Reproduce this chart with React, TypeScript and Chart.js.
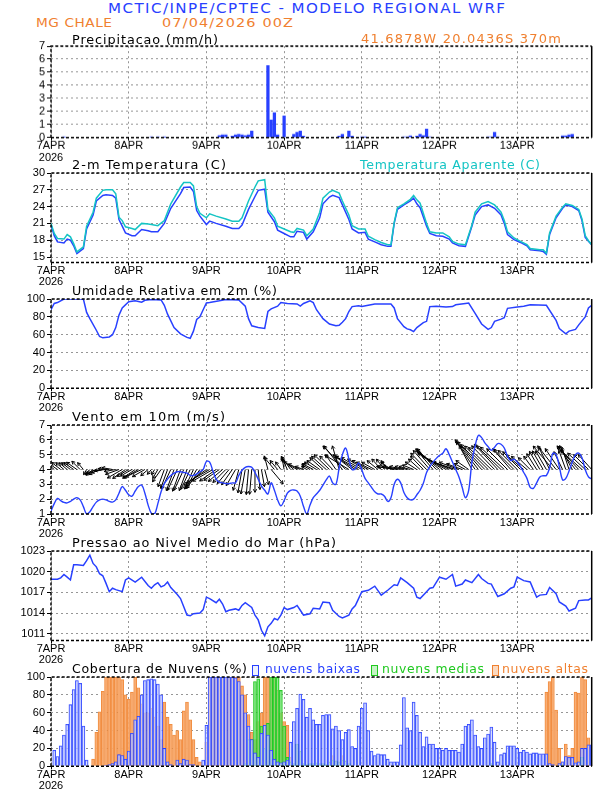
import React, { useEffect, useLayoutEffect, useRef } from 'react';
import { Chart, registerables } from 'chart.js';

Chart.register(...registerables);

// ---------------- data ----------------
const dayTicks = [0, 24, 48, 72, 96, 120, 144];
const dayLabels = ['7APR', '8APR', '9APR', '10APR', '11APR', '12APR', '13APR'];
const yearLabel = '2026';

const precipHours = [4, 31, 33, 35, 52, 53, 54, 56, 57, 58, 59, 60, 61, 62, 67, 68, 69, 70, 72, 75, 76, 77, 78, 89, 90, 92, 93, 96, 97, 109, 110, 111, 113, 114, 115, 116, 117, 135, 136, 137, 138, 158, 159, 160, 161];
const precip = [0.03, 0.03, 0.03, 0.03, 0.15, 0.2, 0.2, 0.1, 0.2, 0.25, 0.2, 0.15, 0.2, 0.5, 5.5, 1.35, 1.9, 0.2, 1.65, 0.25, 0.4, 0.5, 0.1, 0.1, 0.25, 0.5, 0.1, 0.02, 0.02, 0.05, 0.05, 0.12, 0.1, 0.25, 0.15, 0.65, 0.05, 0.05, 0.05, 0.4, 0.05, 0.12, 0.12, 0.2, 0.25];

const tempHours = [0, 1, 2, 4, 5, 6, 7, 8, 10, 11, 13, 14, 16, 17, 19, 20, 21, 22, 23, 25, 26, 28, 30, 31, 33, 35, 37, 40, 41, 43, 44, 45, 46, 48, 49, 51, 54, 56, 58, 59, 61, 63, 64, 66, 67, 69, 70, 72, 74, 75, 76, 78, 79, 81, 83, 84, 86, 87, 89, 90, 92, 93, 95, 97, 98, 100, 102, 104, 105, 106, 107, 109, 111, 112, 113, 114, 116, 117, 119, 121, 123, 124, 126, 128, 130, 131, 133, 135, 137, 139, 140, 141, 143, 145, 147, 148, 151, 152, 153, 154, 156, 158, 159, 161, 163, 164, 165, 166, 167];
const temperature = [20.8, 18.8, 17.7, 17.5, 18.2, 18.0, 17.0, 15.6, 16.5, 20.0, 22.5, 25.0, 26.0, 26.1, 26.0, 25.5, 21.7, 20.5, 19.3, 18.8, 18.8, 19.9, 19.7, 19.5, 19.5, 21.0, 23.7, 26.3, 27.4, 27.5, 26.7, 23.3, 22.3, 20.8, 21.4, 21.0, 20.5, 20.1, 20.1, 20.7, 23.5, 25.8, 26.9, 27.1, 23.0, 21.3, 19.8, 19.2, 18.6, 18.6, 19.6, 19.4, 18.2, 19.5, 22.0, 24.5, 25.7, 26.0, 25.6, 24.3, 21.7, 20.0, 19.3, 19.4, 18.2, 17.7, 17.2, 16.9, 16.9, 21.0, 23.5, 24.3, 25.0, 25.5, 24.5, 23.8, 20.5, 19.2, 18.8, 18.7, 18.2, 17.5, 17.0, 16.9, 20.5, 22.5, 24.0, 24.3, 23.7, 22.5, 21.0, 19.0, 18.1, 17.6, 17.0, 16.3, 16.1, 16.0, 15.5, 19.0, 22.0, 23.7, 24.3, 24.0, 23.3, 21.5, 18.5, 17.8, 17.2];
const apparentTemp = [21.0, 19.2, 18.3, 18.2, 19.0, 18.6, 17.4, 15.9, 16.8, 20.5, 23.0, 25.5, 26.9, 27.0, 27.0, 26.3, 22.1, 21.5, 20.4, 20.1, 19.9, 21.0, 20.9, 20.8, 20.6, 21.5, 24.5, 27.5, 28.3, 28.3, 27.7, 24.0, 22.8, 22.0, 22.7, 22.3, 21.8, 21.4, 21.4, 22.0, 25.0, 27.5, 28.6, 28.8, 23.5, 22.0, 20.5, 20.0, 19.5, 19.4, 20.1, 19.8, 18.8, 20.0, 23.0, 25.5, 26.6, 26.9, 26.4, 25.0, 22.5, 20.6, 20.0, 20.0, 18.7, 18.1, 17.6, 17.2, 17.2, 21.2, 23.8, 24.5, 25.3, 26.0, 25.2, 24.6, 21.0, 19.5, 19.3, 19.3, 18.6, 17.8, 17.3, 17.2, 20.7, 23.0, 24.5, 24.9, 24.3, 23.0, 21.5, 19.5, 18.4, 17.8, 17.2, 16.5, 16.3, 16.3, 15.7, 19.3, 22.3, 23.9, 24.5, 24.2, 23.5, 21.8, 18.8, 17.9, 17.2];

const rhHours = [0, 1, 2, 4, 10, 11, 12, 14, 15, 16, 18, 19, 20, 21, 22, 24, 26, 28, 29, 31, 34, 35, 36, 38, 40, 42, 43, 44, 45, 46, 47, 48, 49, 52, 54, 58, 60, 61, 62, 64, 66, 67, 68, 70, 71, 73, 76, 77, 78, 80, 81, 82, 84, 86, 88, 89, 90, 91, 92, 93, 95, 96, 98, 100, 105, 106, 107, 109, 110, 111, 112, 113, 115, 116, 117, 119, 122, 124, 125, 128, 129, 131, 133, 135, 136, 137, 139, 140, 141, 144, 146, 148, 153, 156, 157, 159, 160, 162, 163, 165, 166, 167];
const humidity = [88, 95, 96, 100, 100, 85, 78, 65, 58, 56.5, 57.5, 60, 68, 82, 90, 97, 98, 96.5, 98.5, 99.5, 99, 93, 83, 68, 61, 57, 56, 64, 77, 80, 88, 95.5, 96, 98, 99.5, 99, 92, 78, 70, 68, 67, 86, 89, 92, 96, 95, 94.5, 92, 95, 98, 96, 88, 78, 72, 70, 70.5, 74, 78, 86, 91.5, 92.5, 91.5, 93, 94.5, 94.5, 90, 78, 69, 66.5, 65.5, 63.5, 68, 73.5, 75, 91.5, 92, 91, 91.5, 93.5, 95, 95.5, 84, 72, 66, 68, 75, 77.5, 79, 89.5, 91, 92, 93.5, 93, 76, 67, 61, 64, 66, 71, 80, 90, 93];

// hourly 10 m wind speed (m/s), hours 0..167
const windSpeed = [
  1.2, 1.7, 2.05, 1.9, 1.78, 1.75, 1.85, 2.0, 2.1, 1.95, 1.5, 1.0, 1.15, 1.5, 1.8, 1.95, 2.0, 1.95, 1.85, 1.8, 1.95, 2.4, 2.85, 2.6,
  2.3, 2.2, 2.55, 2.85, 2.95, 2.4, 1.6, 1.05, 1.0, 1.7, 2.5, 3.05, 3.35, 3.6, 3.75, 3.85, 3.85, 3.8, 3.75, 3.6, 3.6, 3.7, 3.85, 4.0,
  4.55, 4.5, 3.9, 3.35, 3.15, 3.1, 3.05, 3.05, 3.1, 3.1, 3.6, 3.95, 4.15, 4.2, 4.15, 3.8, 3.35, 2.9, 2.6, 2.35, 3.1, 2.6, 1.95, 1.55,
  1.9, 2.4, 2.6, 2.62, 2.55, 2.2, 1.5, 1.0, 1.6, 2.1, 2.35, 2.6, 2.95, 3.3, 3.56, 3.1, 3.0, 4.1, 5.0, 5.45, 4.7, 4.0, 4.05, 4.45,
  3.97, 3.4, 3.1, 2.8, 2.5, 2.35, 2.35, 2.2, 1.85, 2.1, 3.0, 3.34, 3.1, 2.45, 2.1, 1.95, 2.0, 2.3, 2.6, 3.07, 3.8, 4.2, 4.5, 4.75,
  4.95, 5.1, 5.4, 5.0, 4.5, 4.0, 3.5, 2.8, 2.1, 2.6, 4.5, 5.6, 6.3, 6.15, 5.8, 5.54, 5.3, 5.5, 5.75, 5.7, 5.45, 4.9, 4.6, 4.7,
  4.5, 4.2, 3.8, 3.4, 2.8, 2.73, 3.1, 3.5, 3.58, 3.6, 4.1, 5.1, 5.0, 4.2, 3.3, 3.4, 3.9, 4.5, 5.0, 5.1, 4.8, 4.0, 3.5, 3.35,
];
// hourly wind direction (degrees, meteorological "from"), hours 0..167
const windDir = [
  150, 130, 125, 128, 130, 130, 128, 125, 125, 135, 140, 30, 40, 50, 70, 65, 75, 85, 95, 100, 80, 70, 60, 55,
  60, 60, 55, 60, 65, 60, 50, 40, 30, 30, 35, 20, 20, 25, 20, 25, 20, 25, 20, 25, 25, 30, 35, 45,
  55, 60, 60, 55, 55, 50, 45, 40, 35, 30, 15, 10, 10, 5, 5, 0, 355, 350, 345, 165, 320, 140, 140, 145,
  170, 155, 145, 130, 120, 115, 110, 120, 120, 118, 122, 125, 132, 132, 134, 136, 145, 164, 142, 136, 121, 128, 123, 120,
  120, 121, 119, 116, 119, 129, 138, 142, 143, 126, 100, 98, 100, 102, 104, 105, 112, 123, 132, 136, 136, 139, 140, 137,
  130, 125, 120, 116, 112, 108, 110, 110, 118, 125, 152, 146, 142, 139, 136, 135, 134, 136, 137, 134, 133, 135, 139, 135,
  135, 135, 130, 130, 135, 144, 148, 150, 150, 150, 154, 140, 142, 146, 154, 160, 162, 152, 142, 137, 132, 133, 135, 138,
];

const pressureHours = [0, 2, 3, 4, 5, 6, 7, 8, 10, 11, 12, 13, 14, 15, 16, 17, 18, 19, 20, 22, 23, 24, 26, 28, 30, 31, 32, 33, 34, 35, 36, 37, 39, 40, 41, 42, 43, 44, 46, 47, 48, 49, 51, 52, 53, 54, 55, 57, 58, 59, 60, 62, 63, 64, 65, 66, 67, 68, 69, 70, 71, 72, 73, 75, 76, 77, 78, 80, 81, 83, 84, 86, 87, 89, 90, 92, 93, 94, 95, 96, 98, 100, 102, 104, 106, 107, 108, 110, 112, 113, 114, 116, 117, 118, 120, 122, 124, 125, 127, 128, 130, 132, 133, 135, 136, 138, 140, 142, 143, 144, 146, 148, 149, 150, 151, 153, 154, 156, 157, 159, 160, 162, 163, 165, 166, 167];
const pressure = [1018.9, 1018.9, 1019.1, 1019.6, 1019.2, 1018.8, 1021.0, 1021.0, 1020.9, 1021.6, 1022.4, 1021.2, 1020.7, 1019.7, 1019.4, 1018.3, 1017.1, 1017.6, 1017.4, 1017.1, 1018.8, 1019.1, 1018.5, 1019.2, 1018.0, 1017.6, 1018.1, 1018.4, 1017.8, 1018.0, 1018.5, 1017.7, 1016.7, 1016.1, 1014.9, 1013.7, 1013.6, 1013.9, 1014.0, 1014.5, 1016.3, 1016.1, 1015.5, 1016.0, 1015.3, 1014.2, 1014.4, 1014.6, 1014.4, 1015.1, 1015.5, 1014.8, 1013.7, 1013.0, 1011.5, 1010.7, 1012.0, 1012.5, 1013.2, 1013.0, 1013.7, 1014.8, 1014.5, 1014.8, 1015.1, 1014.4, 1013.7, 1013.9, 1014.7, 1014.6, 1015.6, 1015.5, 1014.4, 1013.5, 1013.3, 1013.7, 1014.6, 1015.1, 1016.1, 1017.1, 1017.3, 1017.9, 1016.6, 1017.3, 1018.1, 1018.0, 1019.1, 1018.4, 1017.6, 1016.3, 1016.1, 1017.1, 1017.6, 1017.7, 1019.2, 1018.9, 1019.6, 1017.9, 1018.2, 1018.8, 1018.4, 1019.6, 1019.0, 1018.3, 1018.2, 1016.4, 1016.8, 1017.6, 1017.8, 1019.2, 1018.7, 1018.5, 1017.4, 1016.3, 1016.6, 1016.7, 1017.7, 1016.8, 1015.6, 1015.0, 1014.3, 1014.7, 1015.8, 1015.9, 1015.9, 1016.2];

// hourly cloud cover (%), hours 1..167
const cloudLow = [
  18, 11, 23, 35, 47, 69, 86, 96, 93, 45, 7, 0,
  0, 0, 0, 0, 1, 2, 3, 5, 13, 12, 8, 17,
  37, 52, 56, 80, 96, 97, 98, 97, 92, 80, 20, 5,
  2, 0, 7, 3, 8, 7, 2, 2, 0, 0, 7, 46,
  100, 100, 100, 100, 100, 100, 100, 100, 99, 95, 80, 60,
  45, 30, 15, 10, 37, 46, 35, 18, 8, 5, 4, 5,
  7, 27, 50, 65, 81, 75, 55, 65, 52, 47, 47, 57,
  58, 58, 42, 45, 40, 30, 38, 41, 22, 20, 45, 65,
  71, 40, 17, 12, 14, 13, 13, 8, 5, 5, 5, 24,
  77, 43, 40, 72, 57, 38, 22, 33, 25, 25, 20, 20,
  18, 20, 18, 18, 18, 16, 25, 45, 47, 52, 35, 22,
  20, 32, 36, 44, 27, 5, 13, 15, 23, 23, 23, 20,
  16, 18, 16, 14, 15, 15, 14, 14, 14, 3, 2, 0,
  3, 5, 11, 10, 10, 4, 5, 20, 20, 24, 24,
];
const cloudMid = [
  0, 0, 0, 0, 0, 0, 0, 0, 0, 0, 0, 0,
  0, 0, 0, 0, 0, 0, 0, 0, 0, 0, 0, 0,
  0, 0, 0, 0, 0, 0, 0, 0, 0, 0, 0, 0,
  0, 0, 0, 0, 0, 0, 0, 0, 0, 0, 0, 0,
  0, 0, 0, 0, 0, 0, 0, 0, 0, 0, 0, 3,
  30, 30, 95, 98, 45, 20, 48, 100, 100, 100, 85, 45,
  10, 5, 3, 25, 17, 3, 2, 3, 3, 4, 3, 3,
  2, 5, 7, 6, 5, 7, 6, 3, 0, 0, 0, 0,
  0, 0, 0, 0, 0, 0, 0, 0, 0, 0, 0, 0,
  0, 0, 0, 0, 2, 0, 0, 0, 0, 0, 0, 0,
  0, 0, 0, 0, 0, 0, 0, 0, 0, 0, 0, 0,
  0, 0, 0, 3, 0, 0, 0, 0, 0, 0, 0, 0,
  0, 0, 0, 0, 0, 0, 0, 0, 0, 0, 0, 0,
  0, 2, 0, 0, 0, 0, 0, 10, 0, 0, 0,
];
const cloudHigh = [
  0, 0, 0, 0, 0, 0, 0, 0, 0, 0, 0, 0,
  8, 38, 61, 84, 100, 100, 100, 100, 100, 97, 80, 75,
  83, 100, 88, 70, 60, 60, 65, 55, 45, 30, 72, 55,
  47, 35, 40, 30, 62, 72, 52, 30, 10, 5, 0, 27,
  100, 100, 100, 100, 100, 100, 100, 100, 100, 100, 90, 80,
  58, 38, 30, 50, 60, 100, 100, 100, 100, 85, 60, 50,
  46, 10, 0, 0, 0, 0, 0, 0, 0, 0, 0, 0,
  0, 0, 12, 0, 0, 12, 0, 0, 0, 0, 0, 0,
  0, 0, 0, 0, 0, 0, 0, 0, 0, 0, 0, 0,
  0, 0, 0, 0, 0, 0, 0, 0, 0, 0, 0, 0,
  0, 0, 0, 0, 0, 0, 0, 0, 0, 0, 0, 0,
  0, 0, 0, 0, 0, 0, 0, 0, 0, 0, 0, 0,
  0, 0, 0, 0, 0, 0, 0, 0, 83, 95, 100, 63,
  20, 5, 25, 12, 20, 83, 82, 100, 97, 32, 10,
];

// ---------------- styling / layout ----------------
const W = 612;
const PLOT_LEFT = 51;
const PLOT_RIGHT = 591.7;
const PAD_TOP = 10;
const BELOW = 30;
const TICK_FONT = "'Liberation Sans', 'DejaVu Sans', sans-serif";
const TEXT_FONT = "'DejaVu Sans', 'Liberation Sans', sans-serif";
const BLUE = 'rgb(40,64,255)';
const CYAN = 'rgb(20,196,196)';
const ORANGE = 'rgb(240,128,48)';
const GREEN = 'rgb(30,200,30)';
const ARROW_BASE = 4;
const ARROW_SCALE = 6;

const pts = (xs: number[], ys: number[]) => xs.map((x, i) => ({ x, y: ys[i] }));
const hourly = (ys: number[], start: number) => ys.map((y, i) => ({ x: i + start, y }));

const framePlugin = {
  id: 'frame',
  afterDraw(chart: any) {
    const { ctx, chartArea: a } = chart;
    ctx.save();
    ctx.strokeStyle = '#000';
    ctx.lineWidth = 1.5;
    ctx.setLineDash([3, 2]);
    ctx.beginPath();
    ctx.moveTo(a.left, a.bottom);
    ctx.lineTo(a.left, a.top);
    ctx.lineTo(a.right, a.top);
    ctx.stroke();
    ctx.beginPath();
    ctx.moveTo(a.left, a.bottom);
    ctx.lineTo(a.right, a.bottom);
    ctx.stroke();
    ctx.setLineDash([]);
    ctx.beginPath();
    ctx.moveTo(a.right, a.top);
    ctx.lineTo(a.right, a.bottom);
    ctx.stroke();
    ctx.restore();
  },
};

const arrowPlugin = {
  id: 'windArrows',
  beforeDatasetsDraw(chart: any) {
    const { ctx, chartArea: a } = chart;
    const xs = chart.scales.x;
    const ys = chart.scales.y;
    ctx.save();
    ctx.beginPath();
    ctx.rect(a.left, a.top, a.right - a.left, a.bottom - a.top);
    ctx.clip();
    ctx.strokeStyle = '#000';
    ctx.lineWidth = 1;
    const y0 = ys.getPixelForValue(ARROW_BASE);
    for (let i = 0; i < windDir.length; i++) {
      const x0 = xs.getPixelForValue(i);
      const rad = (windDir[i] * Math.PI) / 180;
      const spd = windSpeed[i];
      const x1 = x0 - Math.sin(rad) * spd * ARROW_SCALE;
      const y1 = y0 + Math.cos(rad) * spd * ARROW_SCALE;
      ctx.beginPath();
      ctx.moveTo(x0, y0);
      ctx.lineTo(x1, y1);
      const ang = Math.atan2(y1 - y0, x1 - x0);
      const hl = 3.5;
      ctx.moveTo(x1, y1);
      ctx.lineTo(x1 - hl * Math.cos(ang - 0.5), y1 - hl * Math.sin(ang - 0.5));
      ctx.moveTo(x1, y1);
      ctx.lineTo(x1 - hl * Math.cos(ang + 0.5), y1 - hl * Math.sin(ang + 0.5));
      ctx.stroke();
    }
    ctx.restore();
  },
};

type PanelDef = {
  top: number;
  bottom: number;
  yMin: number;
  yMax: number;
  yTicks: number[];
  datasets: any[];
  extraPlugins?: any[];
};

function Panel({ def }: { def: PanelDef }) {
  const ref = useRef<HTMLCanvasElement>(null);
  const plotH = def.bottom - def.top;
  const canvasH = plotH + PAD_TOP + BELOW;
  useEffect(() => {
    const gridCommon = {
      color: 'rgb(150,150,150)',
      lineWidth: 1,
      drawTicks: true,
      tickLength: 3,
      tickColor: '#000',
      tickWidth: 1,
      tickBorderDash: [],
      offset: false,
    };
    const tickFont = { family: TICK_FONT, size: 11, lineHeight: 1.02 };
    const chart = new Chart(ref.current as HTMLCanvasElement, {
      type: 'line',
      data: { datasets: def.datasets },
      options: {
        animation: false,
        responsive: true,
        maintainAspectRatio: false,
        events: [],
        layout: { autoPadding: false, padding: { left: 0, right: W - PLOT_RIGHT, top: PAD_TOP, bottom: 0 } },
        plugins: { legend: { display: false }, tooltip: { enabled: false }, title: { display: false } },
        scales: {
          x: {
            type: 'linear',
            min: 0,
            max: 167,
            offset: false,
            afterBuildTicks: (s: any) => {
              s.ticks = dayTicks.map((v) => ({ value: v }));
            },
            afterFit: (s: any) => {
              s.height = canvasH - PAD_TOP - plotH;
            },
            ticks: {
              autoSkip: false,
              maxRotation: 0,
              minRotation: 0,
              padding: 0,
              color: '#000',
              font: tickFont,
              callback: (v: any) => {
                const i = dayTicks.indexOf(Number(v));
                if (i < 0) return '';
                return i === 0 ? [dayLabels[0], yearLabel] : dayLabels[i];
              },
            },
            grid: gridCommon,
            border: { display: false, dash: [2, 3] },
          },
          y: {
            type: 'linear',
            min: def.yMin,
            max: def.yMax,
            afterBuildTicks: (s: any) => {
              s.ticks = def.yTicks.map((v) => ({ value: v }));
            },
            afterFit: (s: any) => {
              s.width = PLOT_LEFT;
            },
            ticks: { autoSkip: false, padding: 2, color: '#000', font: tickFont, callback: (v: any) => String(v) },
            grid: { ...gridCommon, tickLength: 4 },
            border: { display: false, dash: [2, 3] },
          },
        },
      } as any,
      plugins: [...(def.extraPlugins || []), framePlugin],
    });
    return () => chart.destroy();
  }, []);
  return (
    <div style={{ position: 'absolute', left: 0, top: def.top - PAD_TOP, width: W, height: canvasH }}>
      <canvas ref={ref} />
    </div>
  );
}

function Label({ text, left, cy, width, size, color }: { text: string; left: number; cy: number; width: number; size: number; color: string }) {
  const ref = useRef<HTMLSpanElement>(null);
  useLayoutEffect(() => {
    const el = ref.current;
    if (!el) return;
    el.style.letterSpacing = '0px';
    el.style.transform = 'translateY(-50%)';
    const natural = el.getBoundingClientRect().width;
    const n = Math.max(1, text.length - 1);
    const spacing = Math.max(0, (width - natural) * 0.5) / n;
    el.style.letterSpacing = spacing + 'px';
    const spaced = natural + spacing * n;
    const k = width / spaced;
    el.style.transform = `translateY(-50%) scaleX(${k})`;
  }, []);
  return (
    <span
      ref={ref}
      style={{
        position: 'absolute',
        left,
        top: cy,
        transform: 'translateY(-50%)',
        transformOrigin: 'left center',
        whiteSpace: 'nowrap',
        fontFamily: TEXT_FONT,
        fontSize: size,
        lineHeight: 1,
        color,
      }}
    >
      {text}
    </span>
  );
}

function Box({ left, cy, color, fill }: { left: number; cy: number; color: string; fill: string }) {
  return (
    <div
      style={{
        position: 'absolute',
        left,
        top: cy - 5,
        width: 5,
        height: 9,
        border: `1px solid ${color}`,
        background: fill,
      }}
    />
  );
}

const lineStyle = (color: string, width = 1.5) => ({
  type: 'line',
  borderColor: color,
  borderWidth: width,
  pointRadius: 0,
  fill: false,
  tension: 0,
});

const barStyle = (fill: string, stroke: string, order: number) => ({
  type: 'bar',
  backgroundColor: fill,
  borderColor: stroke,
  borderWidth: 0.8,
  barThickness: 3,
  grouped: false,
  order,
});

export default function App() {
  const panels: PanelDef[] = [
    {
      top: 46,
      bottom: 136.7,
      yMin: 0,
      yMax: 7,
      yTicks: [0, 1, 2, 3, 4, 5, 6, 7],
      datasets: [
        {
          type: 'bar',
          data: pts(precipHours, precip),
          backgroundColor: BLUE,
          borderWidth: 0,
          barThickness: 2.6,
          grouped: false,
        },
      ],
    },
    {
      top: 172.7,
      bottom: 262.3,
      yMin: 14,
      yMax: 30,
      yTicks: [15, 18, 21, 24, 27, 30],
      datasets: [
        { ...lineStyle(CYAN), data: pts(tempHours, apparentTemp) },
        { ...lineStyle(BLUE), data: pts(tempHours, temperature) },
      ],
    },
    {
      top: 299,
      bottom: 388.3,
      yMin: 0,
      yMax: 100,
      yTicks: [0, 20, 40, 60, 80, 100],
      datasets: [{ ...lineStyle(BLUE), data: pts(rhHours, humidity) }],
    },
    {
      top: 425,
      bottom: 514,
      yMin: 1,
      yMax: 7,
      yTicks: [1, 2, 3, 4, 5, 6, 7],
      datasets: [{ ...lineStyle(BLUE, 1.4), tension: 0.35, data: hourly(windSpeed, 0) }],
      extraPlugins: [arrowPlugin],
    },
    {
      top: 550.7,
      bottom: 640.3,
      yMin: 1010,
      yMax: 1023,
      yTicks: [1011, 1014, 1017, 1020, 1023],
      datasets: [{ ...lineStyle(BLUE), data: pts(pressureHours, pressure) }],
    },
    {
      top: 676.7,
      bottom: 766,
      yMin: 0,
      yMax: 100,
      yTicks: [0, 20, 40, 60, 80, 100],
      datasets: [
        { ...barStyle('rgba(247,168,108,0.9)', 'rgb(240,136,56)', 3), data: hourly(cloudHigh, 1) },
        { ...barStyle('rgba(120,230,120,0.55)', 'rgb(30,200,30)', 2), data: hourly(cloudMid, 1) },
        { ...barStyle('rgba(236,240,255,0.55)', 'rgb(40,64,255)', 1), data: hourly(cloudLow, 1) },
      ],
    },
  ];

  return (
    <div style={{ position: 'absolute', left: 0, top: 0, width: W, height: 792, background: '#fff', overflow: 'hidden' }}>
      {panels.map((p, i) => (
        <Panel key={i} def={p} />
      ))}
      <Label text="MCTIC/INPE/CPTEC - MODELO REGIONAL WRF" left={108} cy={8.5} width={397} size={13.3} color={BLUE} />
      <Label text="MG CHALE" left={36} cy={22} width={76} size={13} color={ORANGE} />
      <Label text="07/04/2026 00Z" left={162} cy={22} width={131} size={13} color={ORANGE} />
      <Label text="Precipitacao (mm/h)" left={72} cy={40.5} width={146} size={11.5} color="#000" />
      <Label text="41.6878W 20.0436S 370m" left={361} cy={40} width={200} size={11.5} color={ORANGE} />
      <Label text="2-m Temperatura (C)" left={72} cy={166} width={154} size={11.5} color="#000" />
      <Label text="Temperatura Aparente (C)" left={360} cy={166} width={180} size={11.5} color={CYAN} />
      <Label text="Umidade Relativa em 2m (%)" left={72} cy={292.3} width={205} size={11.5} color="#000" />
      <Label text="Vento em 10m (m/s)" left={72} cy={418.3} width={153} size={11.5} color="#000" />
      <Label text="Pressao ao Nivel Medio do Mar (hPa)" left={72} cy={544.3} width={264} size={11.5} color="#000" />
      <Label text="Cobertura de Nuvens (%)" left={72} cy={670} width={175} size={11.5} color="#000" />
      <Box left={252} cy={670} color={BLUE} fill="rgba(215,225,255,0.45)" />
      <Label text="nuvens baixas" left={265} cy={670} width={95} size={11.5} color={BLUE} />
      <Box left={371} cy={670} color={GREEN} fill="rgba(110,226,110,0.4)" />
      <Label text="nuvens medias" left={382} cy={670} width={102} size={11.5} color={GREEN} />
      <Box left={492} cy={670} color={ORANGE} fill="rgba(246,160,96,0.4)" />
      <Label text="nuvens altas" left={502} cy={670} width={86} size={11.5} color={ORANGE} />
    </div>
  );
}
